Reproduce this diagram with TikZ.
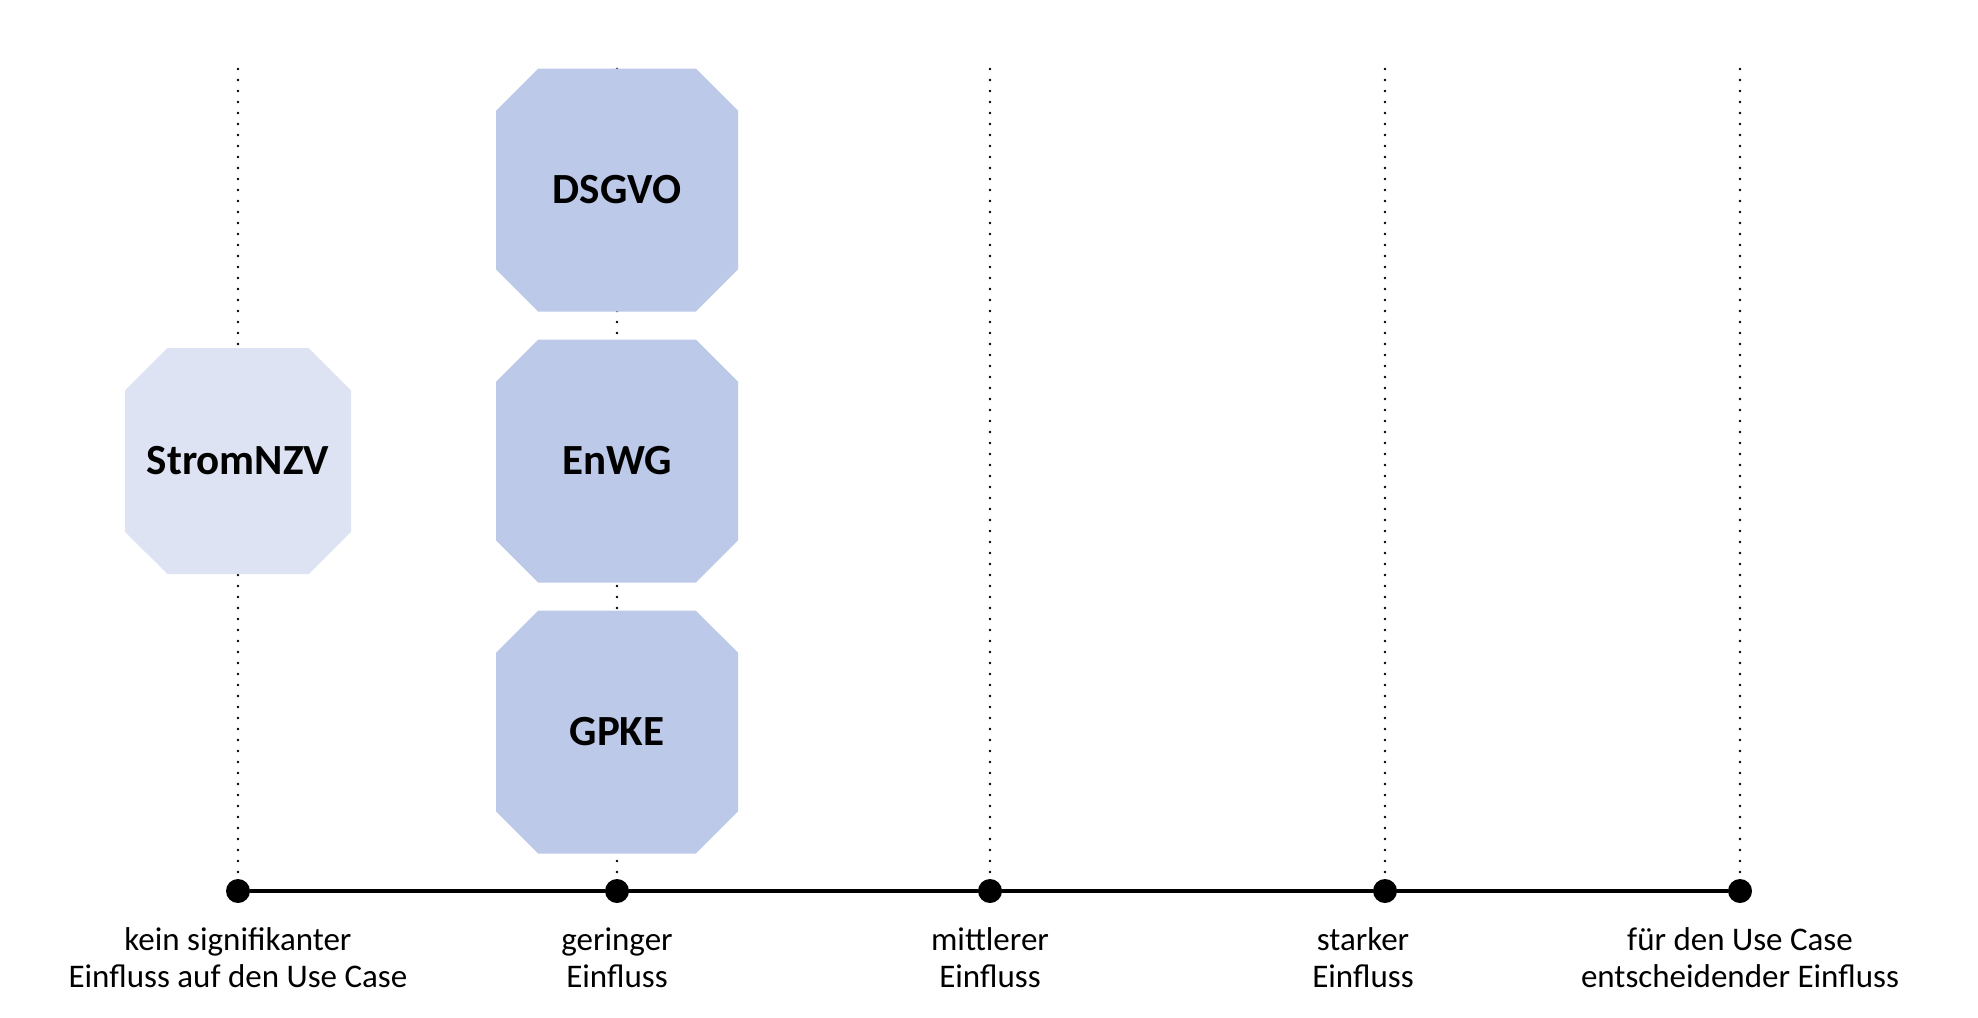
\documentclass[tikz,border=0pt]{standalone}
\usepackage{fontspec}
\setmainfont{Carlito}
\usetikzlibrary{shapes.misc,positioning}
\definecolor{lawblue}{HTML}{BCC9E8}
\definecolor{lawpale}{HTML}{DEE3F3}
\tikzset{
  every picture/.style={line join=round, line cap=round},
  tick/.style={circle, fill=black, inner sep=0pt, minimum size=12pt},
  guide/.style={line width=1.3pt, dash pattern=on 0pt off 5.5pt},
  axis/.style={line width=1.6pt},
  law/.style={chamfered rectangle, chamfered rectangle xsep=17pt, chamfered rectangle ysep=14pt,
    fill=lawblue, draw=none, inner sep=0pt, minimum width=121pt, minimum height=121.5pt,
    font=\fontsize{21.5}{24}\selectfont\bfseries},
  level/.style={align=center, inner sep=0pt, font=\fontsize{16.5}{18.5}\selectfont},
}
\begin{document}
\begin{tikzpicture}[x=0.5pt,y=-0.5pt]
\useasboundingbox (0,0) rectangle (1978,1018);
% scale of influence
\node[tick] (t1) at (238,891) {};
\node[tick] (t2) at (617,891) {};
\node[tick] (t3) at (990,891) {};
\node[tick] (t4) at (1385,891) {};
\node[tick] (t5) at (1740,891) {};
\coordinate (g1) at (238,69);
\coordinate (g2) at (617,69);
\coordinate (g3) at (990,69);
\coordinate (g4) at (1385,69);
\coordinate (g5) at (1740,69);
\draw[guide](g1)--(t1);
\draw[guide](g2)--(t2);
\draw[guide](g3)--(t3);
\draw[guide](g4)--(t4);
\draw[guide](g5)--(t5);
\draw[axis](t1)--(t2)--(t3)--(t4)--(t5);
% laws
\node[law,fill=lawpale,minimum width=113pt,minimum height=113pt,
  chamfered rectangle xsep=15.5pt,chamfered rectangle ysep=14pt] (strom) at (238,461) {StromNZV};
\node[law] (dsgvo) at (617,190) {DSGVO};
\node[law] (enwg) at (617,461) {EnWG};
\node[law] (gpke) at (617,732) {GPKE};
% labels
\node[level] (l1) at (238,958) {kein signifikanter\\Einfluss auf den Use Case};
\node[level] (l2) at (617,958) {geringer\\Einfluss};
\node[level] (l3) at (990,958) {mittlerer\\Einfluss};
\node[level] (l4) at (1363,958) {starker\\Einfluss};
\node[level] (l5) at (1740,958) {für den Use Case\\entscheidender Einfluss};
\end{tikzpicture}
\end{document}
